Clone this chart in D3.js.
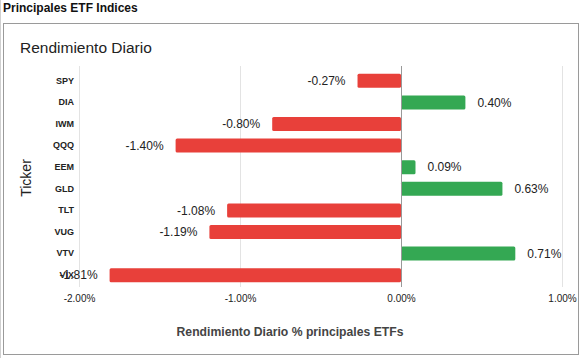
<!DOCTYPE html>
<html><head><meta charset="utf-8">
<script src="https://cdn.jsdelivr.net/npm/d3@7"></script>
<style>body{margin:0;background:#fff;}svg{display:block;font-family:"Liberation Sans",Arial,sans-serif;}</style>
</head><body><svg id="c" width="583" height="358"></svg>
<script>
const tickers = ["SPY","DIA","IWM","QQQ","EEM","GLD","TLT","VUG","VTV","VIX"];
const returns = [-0.27, 0.40, -0.80, -1.40, 0.09, 0.63, -1.08, -1.19, 0.71, -1.81];
const xTicks = [-2, -1, 0, 1];
const header = "Principales ETF Indices";
const chartTitle = "Rendimiento Diario";
const xTitle = "Rendimiento Diario % principales ETFs";
const yTitle = "Ticker";

const svg = d3.select("#c");
const W = 583, H = 358;
const fmt = v => v.toFixed(2) + "%";

// spreadsheet edge
svg.append("line").attr("x1",0.5).attr("x2",0.5).attr("y1",0).attr("y2",H).attr("stroke","#d0d0d0");
// header
svg.append("text").attr("x",3).attr("y",12).attr("font-size",12).attr("font-weight","bold").attr("fill","#111").text(header);
// card
svg.append("rect").attr("x",3.5).attr("y",23.5).attr("width",575).attr("height",331).attr("fill","#fff").attr("stroke","#9a9a9a");

svg.append("text").attr("x",20).attr("y",53).attr("font-size",15.5).attr("fill","#222").text(chartTitle);

const x = d3.scaleLinear().domain([-2,1]).range([79,562]);
const y = d3.scaleBand().domain(tickers).range([70,286]).paddingInner(0.35).paddingOuter(0.175);

// grid
svg.append("g").selectAll("line").data(xTicks.filter(t=>t!==0)).join("line")
  .attr("x1",d=>x(d)+0.5).attr("x2",d=>x(d)+0.5).attr("y1",66).attr("y2",287)
  .attr("stroke","#e3e3e3").attr("stroke-width",1);

// bars
const data = tickers.map((t,i)=>({t, v: returns[i]}));
svg.append("g").selectAll("rect").data(data).join("rect")
  .attr("x",d=>x(Math.min(0,d.v))).attr("width",d=>Math.abs(x(d.v)-x(0)))
  .attr("y",d=>y(d.t)).attr("height",y.bandwidth())
  .attr("rx",1.5)
  .attr("fill",d=>d.v<0?"#e8403a":"#34a853");

// zero line
svg.append("line").attr("x1",x(0)+0.5).attr("x2",x(0)+0.5).attr("y1",66).attr("y2",287).attr("stroke","#999").attr("stroke-width",1);

// value labels
svg.append("g").selectAll("text").data(data).join("text")
  .attr("x",d=>d.v<0 ? x(d.v)-12 : x(d.v)+12)
  .attr("y",d=>y(d.t)+y.bandwidth()/2)
  .attr("dy","0.35em")
  .attr("text-anchor",d=>d.v<0?"end":"start")
  .attr("font-size",12).attr("fill","#222")
  .text(d=>fmt(d.v));

// y axis labels
const yAxis = d3.axisLeft(y).tickSize(0).tickPadding(0);
const gy = svg.append("g").attr("transform","translate(74,0)").call(yAxis);
gy.select(".domain").remove();
gy.selectAll("text").attr("font-size",9).attr("font-weight","bold").attr("fill","#222").attr("font-family","Liberation Sans, Arial, sans-serif");

// x axis labels
const xAxis = d3.axisBottom(x).tickValues(xTicks).tickSize(0).tickPadding(0).tickFormat(d=>fmt(d));
const gx = svg.append("g").attr("transform","translate(0,295)").call(xAxis);
gx.select(".domain").remove();
gx.selectAll("text").attr("font-size",10).attr("fill","#222").attr("font-family","Liberation Sans, Arial, sans-serif");

// axis titles
svg.append("text").attr("x",290).attr("y",336).attr("text-anchor","middle").attr("font-size",12.2).attr("font-weight","bold").attr("fill","#444").text(xTitle);
svg.append("text").attr("transform","translate(31,178) rotate(-90)").attr("text-anchor","middle").attr("font-size",14).attr("fill","#222").text(yTitle);
</script></body></html>
